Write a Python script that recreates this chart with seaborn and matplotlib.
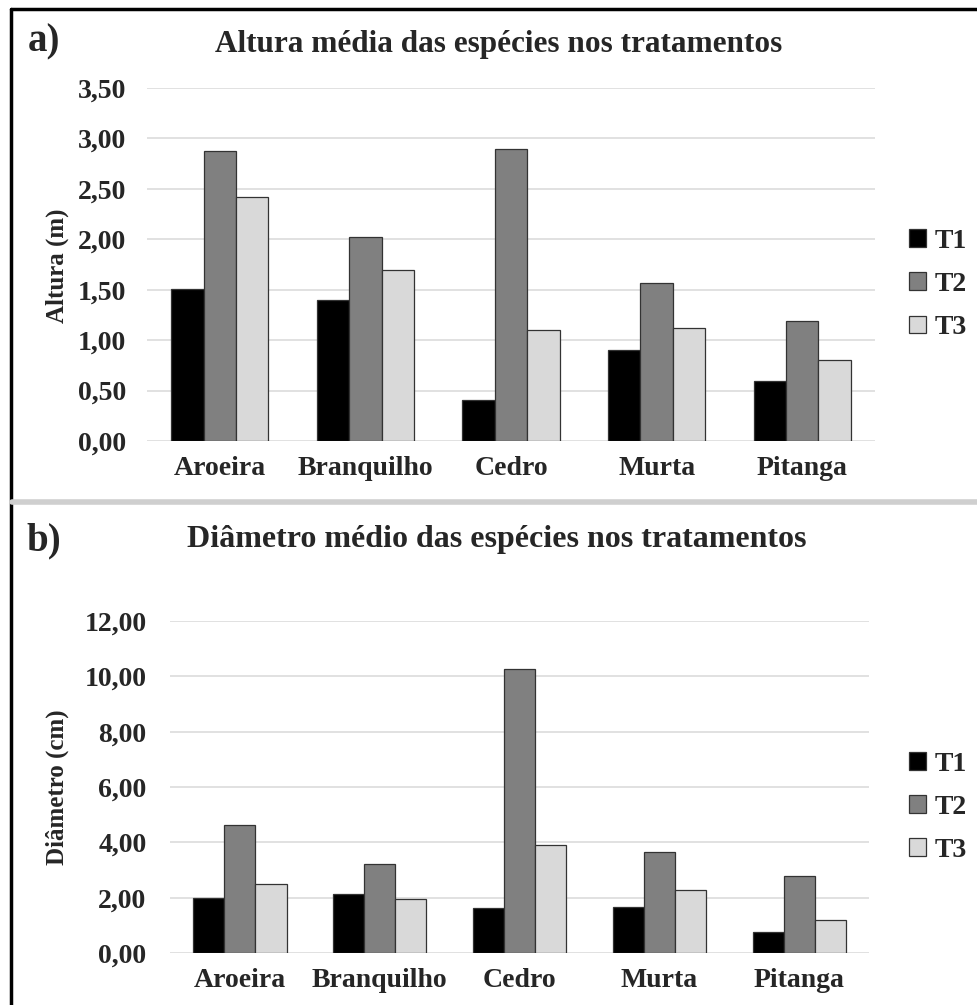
import numpy as np
import pandas as pd
import matplotlib
matplotlib.use("Agg")
import matplotlib.pyplot as plt
from matplotlib.lines import Line2D
from matplotlib.ticker import FuncFormatter, MultipleLocator
import seaborn as sns

# valores
species = ["Aroeira", "Branquilho", "Cedro", "Murta", "Pitanga"]
treatments = ["T1", "T2", "T3"]

altura_t1 = [1.51, 1.40, 0.41, 0.90, 0.59]
altura_t2 = [2.88, 2.02, 2.90, 1.57, 1.19]
altura_t3 = [2.42, 1.70, 1.10, 1.12, 0.80]

diam_t1 = [2.00, 2.12, 1.64, 1.67, 0.76]
diam_t2 = [4.64, 3.20, 10.25, 3.66, 2.79]
diam_t3 = [2.48, 1.96, 3.92, 2.27, 1.19]

colors = {"T1": "#000000", "T2": "#808080", "T3": "#d9d9d9"}


def long_df(t1, t2, t3):
    rows = []
    for trt, vals in zip(treatments, [t1, t2, t3]):
        for sp, v in zip(species, vals):
            rows.append({"especie": sp, "trat": trt, "valor": v})
    return pd.DataFrame(rows)


sns.set_theme(style="white")
plt.rcParams["font.family"] = ["Liberation Serif", "DejaVu Serif"]
plt.rcParams["font.weight"] = "bold"

fig = plt.figure(figsize=(9.77, 10.05), dpi=100)
ax_a = fig.add_axes([0.1505, 0.5612, 0.7451, 0.3512])
ax_b = fig.add_axes([0.1740, 0.0517, 0.7155, 0.3304])

comma_fmt = FuncFormatter(lambda v, p: f"{v:.2f}".replace(".", ","))


def draw_panel(ax, df, ymax, step, legend_y, ypad):
    sns.barplot(data=df, x="especie", y="valor", hue="trat", palette=colors,
                hue_order=treatments, order=species, width=0.667, gap=0,
                errorbar=None, edgecolor="#333333", linewidth=0.9, ax=ax)
    ax.set_ylim(0, ymax)
    ax.yaxis.set_major_locator(MultipleLocator(step))
    ax.yaxis.set_major_formatter(comma_fmt)
    ax.grid(axis="y", color="#d9d9d9", linewidth=1.1)
    ax.set_axisbelow(True)
    for s in ax.spines.values():
        s.set_visible(False)
    ax.tick_params(axis="both", length=0, labelsize=20)
    ax.tick_params(axis="y", pad=ypad)
    ax.tick_params(axis="x", pad=11)
    for lab in ax.get_xticklabels() + ax.get_yticklabels():
        lab.set_fontweight("bold")
    ax.set_xlabel("")
    ax.set_ylabel("")
    ax.get_legend().remove()
    handles = [plt.Rectangle((0, 0), 1, 1, facecolor=colors[t], edgecolor="#333333", linewidth=0.9)
               for t in treatments]
    fig.legend(handles, treatments, loc="upper left", bbox_to_anchor=(0.905, legend_y),
               frameon=False, handlelength=0.6, handleheight=0.6, handletextpad=0.3,
               labelspacing=0.65, prop={"size": 20, "weight": "bold"})


draw_panel(ax_a, long_df(altura_t1, altura_t2, altura_t3), 3.5, 0.5, 0.797, 15)
draw_panel(ax_b, long_df(diam_t1, diam_t2, diam_t3), 12, 2, 0.277, 17)

# titulos e rotulos
fig.text(0.51, 0.956, "Altura média das espécies nos tratamentos", ha="center", va="center",
         fontsize=22.5, fontweight="bold")
fig.text(0.508, 0.463, "Diâmetro médio das espécies nos tratamentos", ha="center", va="center",
         fontsize=23, fontweight="bold")
fig.text(0.045, 0.958, "a)", ha="center", va="center", fontsize=28, fontweight="bold")
fig.text(0.045, 0.462, "b)", ha="center", va="center", fontsize=28, fontweight="bold")
fig.text(0.059, 0.736, "Altura (m)", rotation=90, ha="center", va="center",
         fontsize=18, fontweight="bold")
fig.text(0.059, 0.217, "Diâmetro (cm)", rotation=90, ha="center", va="center",
         fontsize=18, fontweight="bold")

# moldura
fig.add_artist(Line2D([0.011, 1.0], [0.9915, 0.9915], color="black", linewidth=2.5))
fig.add_artist(Line2D([0.011, 0.011], [0.0, 0.9915], color="black", linewidth=2.5))
fig.add_artist(Line2D([0.012, 1.0], [0.5, 0.5], color="#cfcfcf", linewidth=4))

fig.savefig("out.png", dpi=100, facecolor="white")
